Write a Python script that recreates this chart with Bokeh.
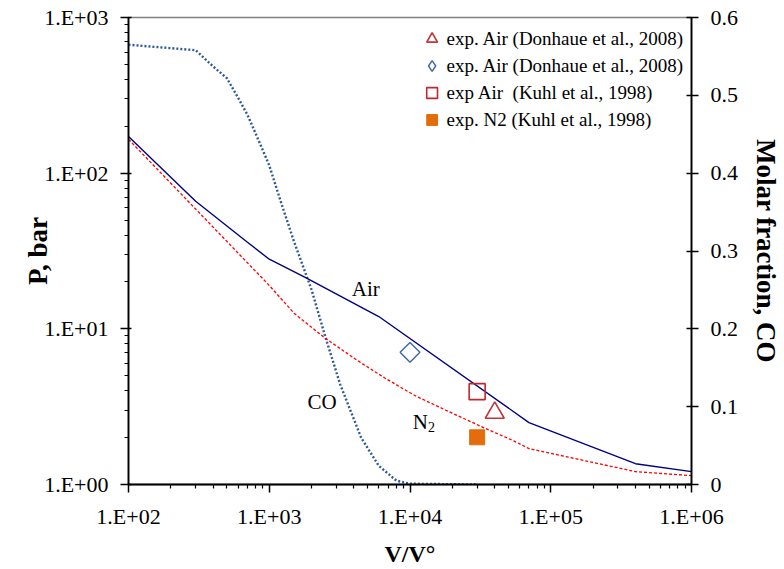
import numpy as np
from bokeh.plotting import figure
from bokeh.models import (Range1d, LinearAxis, LinearScale, FixedTicker, Legend,
                          LegendItem, Label)
from bokeh.embed import file_html
from bokeh.resources import INLINE

# ---- data ----
x_ticks = [1e2, 1e3, 1e4, 1e5, 1e6]
x_tick_labels = ["1.E+02", "1.E+03", "1.E+04", "1.E+05", "1.E+06"]
y_ticks = [1.0, 10.0, 100.0, 1000.0]
y_tick_labels = ["1.E+00", "1.E+01", "1.E+02", "1.E+03"]
co_ticks = [0.0, 0.1, 0.2, 0.3, 0.4, 0.5, 0.6]
co_tick_labels = ["0", "0.1", "0.2", "0.3", "0.4", "0.5", "0.6"]

air_x = [100, 300, 700, 1000, 1800, 6000, 70000, 400000, 1000000]
air_p = [172, 66, 36, 28, 21.4, 12.0, 2.5, 1.36, 1.21]

n2_x = [100, 1000, 1500, 2500, 4300, 6700, 11000, 18000, 34000, 55000, 70000, 400000, 1000000]
n2_p = [165, 19.0, 12.6, 8.7, 6.2, 4.8, 3.7, 3.0, 2.3, 1.9, 1.7, 1.21, 1.14]

co_x = [100, 300, 400, 500, 600, 700, 850, 1000, 1200, 1500, 1700, 2000, 2500,
        3200, 4500, 6000, 8000, 10000, 30000]
co_frac = [0.565, 0.558, 0.537, 0.522, 0.497, 0.475, 0.44, 0.41, 0.365, 0.312,
           0.285, 0.25, 0.19, 0.128, 0.06, 0.024, 0.005, 0.001, 0.0]

don_tri_x = [40000]
don_tri_p = [2.89]
don_dia_x = [10000]
don_dia_p = [7.06]
kuhl_air_x = [30000]
kuhl_air_p = [3.95]
kuhl_n2_x = [30000]
kuhl_n2_p = [2.01]

legend_labels = ["exp. Air (Donhaue et al., 2008)",
                 "exp. Air (Donhaue et al., 2008)",
                 "exp Air  (Kuhl et al., 1998)",
                 "exp. N2 (Kuhl et al., 1998)"]

SERIF = "'Liberation Serif', 'Times New Roman', serif"

p = figure(width=784, height=569, x_axis_type="log", y_axis_type="log",
           x_range=Range1d(1e2, 1e6), y_range=Range1d(1, 1000),
           output_backend="svg", toolbar_location=None,
           min_border_left=128, min_border_right=89, min_border_top=17,
           min_border_bottom=83)
p.extra_y_ranges = {"co": Range1d(0, 0.6)}
p.extra_y_scales = {"co": LinearScale()}
p.grid.visible = False
p.outline_line_color = "#808080"
p.outline_line_width = 1.5
p.background_fill_color = "white"
p.border_fill_color = "white"

x_minor = [k * 10.0 ** d for d in range(2, 6) for k in range(2, 10)]
y_minor = [k * 10.0 ** d for d in range(0, 3) for k in range(2, 10)]

xa = p.xaxis[0]
xa.ticker = FixedTicker(ticks=x_ticks, minor_ticks=x_minor)
xa.major_label_overrides = {t: l for t, l in zip(x_ticks, x_tick_labels)}
ya = p.yaxis[0]
ya.ticker = FixedTicker(ticks=y_ticks, minor_ticks=y_minor)
ya.major_label_overrides = {t: l for t, l in zip(y_ticks, y_tick_labels)}

ra = LinearAxis(y_range_name="co", ticker=FixedTicker(ticks=co_ticks),
                major_label_overrides={t: l for t, l in zip(co_ticks, co_tick_labels)})
p.add_layout(ra, "right")

for ax in (xa, ya, ra):
    ax.axis_line_color = "black"
    ax.axis_line_width = 1.8
    ax.major_tick_line_color = "black"
    ax.major_tick_line_width = 1.5
    ax.minor_tick_line_color = "black"
    ax.minor_tick_line_width = 1.2
    ax.major_label_text_font = SERIF
    ax.major_label_text_font_size = "22px"
    ax.major_label_text_color = "black"
    ax.axis_label_text_font = SERIF
    ax.axis_label_text_font_style = "bold"
    ax.axis_label_text_font_size = "27px"
    ax.axis_label_text_color = "black"

xa.major_tick_out = 8
xa.major_tick_in = 0
xa.minor_tick_out = 4
xa.minor_tick_in = 0
xa.major_label_standoff = 11
xa.axis_label = "V/V°"
xa.axis_label_text_font_size = "24px"
xa.axis_label_standoff = 9

ya.major_tick_out = 8
ya.major_tick_in = 3
ya.minor_tick_out = 4
ya.minor_tick_in = 0
ya.major_label_standoff = 12
ya.axis_label = "P, bar"
ya.axis_label_standoff = -12

ra.major_tick_out = 7
ra.major_tick_in = 5
ra.minor_tick_line_color = None
ra.major_label_standoff = 12
ra.axis_label = "Molar fraction, CO"
ra.axis_label_standoff = 10

# ---- curves ----
p.line(co_x, co_frac, y_range_name="co", line_color="#2E5A94", line_width=2.4,
       line_dash="2 2")
p.line(n2_x, n2_p, line_color="#FF0000", line_width=1.3, line_dash="3 2")
p.line(air_x, air_p, line_color="#000080", line_width=1.4)

# ---- experiment markers ----
r_tri = p.scatter(don_tri_x, don_tri_p, marker="triangle", size=19,
                  fill_color=None, line_color="#C0363A", line_width=1.6)
p.scatter(don_dia_x, don_dia_p, marker="square", angle=np.pi / 4, size=14,
          fill_color=None, line_color="#3C6AA0", line_width=1.4)
# legend glyph for the diamond (legend markers are drawn unrotated;
# the legend sizes markers from its own glyph box, so size 0 here)
r_dia = p.scatter(don_dia_x, don_dia_p, marker="diamond", size=0,
                  fill_color=None, line_color="#3C6AA0", line_width=1.4)
r_sq = p.scatter(kuhl_air_x, kuhl_air_p, marker="square", size=16,
                 fill_color=None, line_color="#C0282D", line_width=1.6)
r_fsq = p.scatter(kuhl_n2_x, kuhl_n2_p, marker="square", size=15,
                  fill_color="#E46C0A", line_color="#E46C0A", line_width=1)

legend = Legend(items=[LegendItem(label=legend_labels[0], renderers=[r_tri]),
                       LegendItem(label=legend_labels[1], renderers=[r_dia]),
                       LegendItem(label=legend_labels[2], renderers=[r_sq]),
                       LegendItem(label=legend_labels[3], renderers=[r_fsq])],
                location="top_right", margin=8, padding=0, spacing=0,
                glyph_width=30, glyph_height=27, label_standoff=0,
                border_line_color=None, background_fill_alpha=0,
                label_text_font=SERIF, label_text_font_size="19px",
                label_text_color="black")
p.add_layout(legend)

# ---- curve labels ----
lbl_kw = dict(text_font=SERIF, text_font_size="21px", text_color="black",
              text_align="center", text_baseline="middle")
p.add_layout(Label(x=4855, y=17.9, text="Air", **lbl_kw))
p.add_layout(Label(x=2377, y=3.40, text="CO", **lbl_kw))
p.add_layout(Label(x=11860, y=2.53, text="N", **lbl_kw))
p.add_layout(Label(x=14190, y=2.33, text="2", text_font=SERIF, text_font_size="14px",
                   text_color="black", text_align="center", text_baseline="middle"))

open("out.html", "w").write(file_html(p, INLINE))
